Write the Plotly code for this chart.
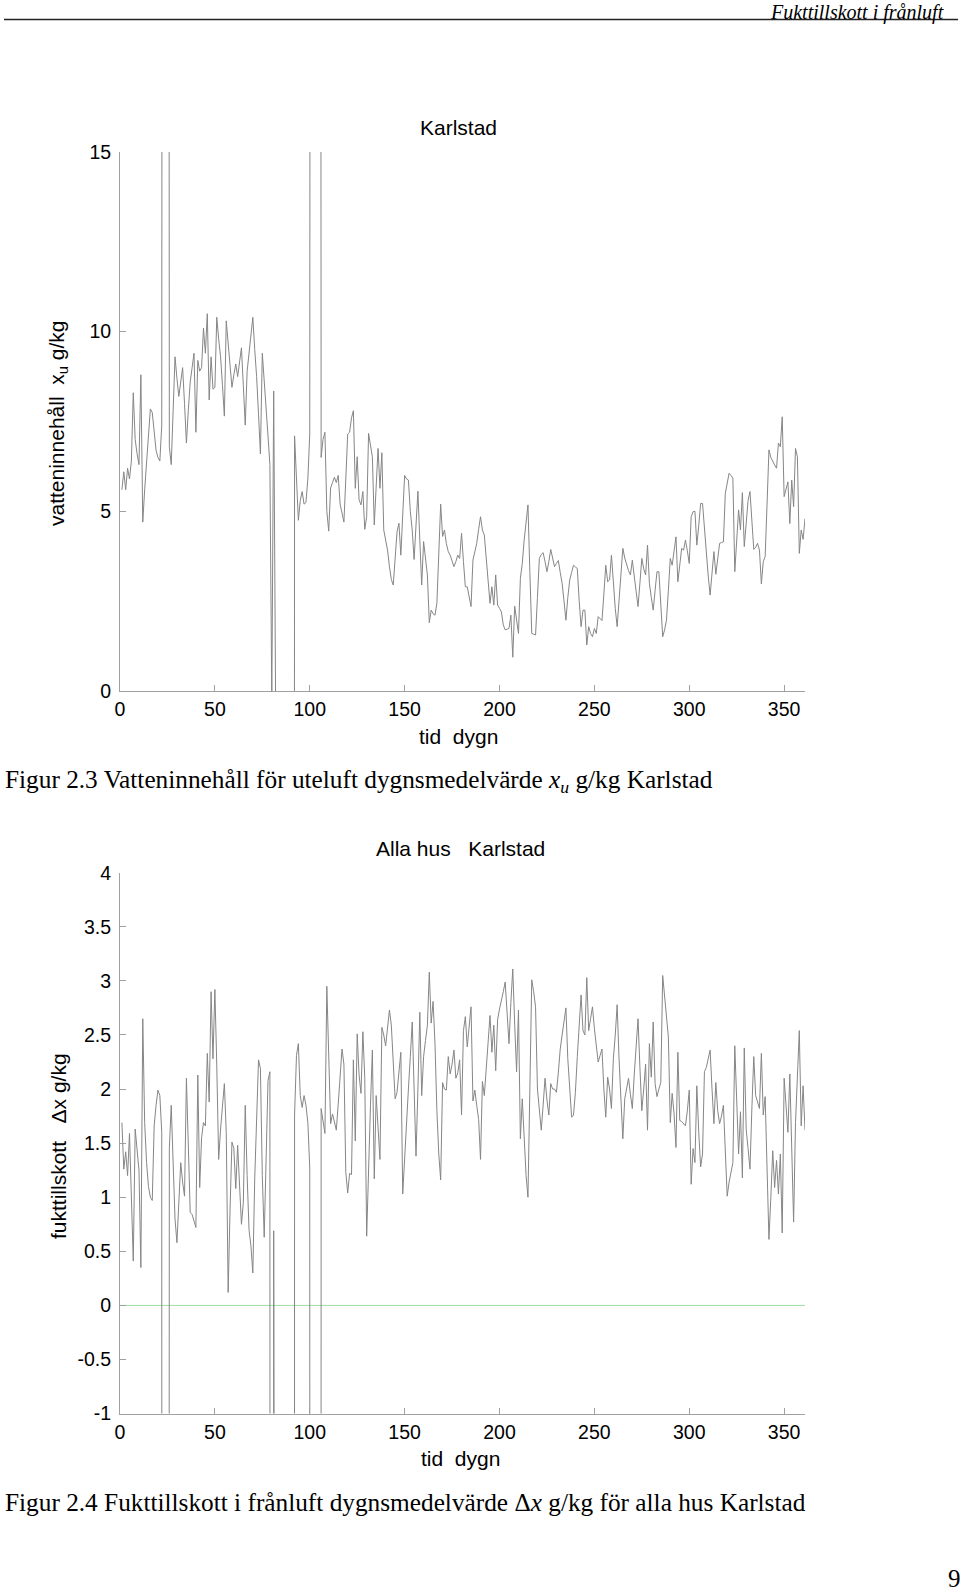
import plotly.graph_objects as go

W, H = 960, 1592

# ---- data: daily values, day 1 .. 361 (99 / -99 = missing-data code, drawn off-axis) ----
xu_values = [
    5.6, 6.1, 5.6, 6.2, 5.9, 6.4, 8.3, 7.0, 6.6, 6.3,
    8.8, 4.7, 5.6, 6.4, 7.1, 7.85, 7.75, 7.2, 6.7, 6.5,
    6.4, 7.4, 99, 99, 99, 6.8, 6.3, 7.8, 9.3, 8.7,
    8.2, 8.6, 9.0, 8.0, 6.9, 7.8, 8.6, 9.0, 9.4, 7.2,
    9.2, 8.9, 9.0, 10.1, 9.4, 10.5, 8.1, 9.3, 8.4, 8.45,
    10.4, 9.8, 9.3, 8.5, 7.65, 10.3, 9.6, 9.0, 8.45, 8.8,
    9.1, 8.75, 9.2, 9.55, 8.5, 7.4, 8.9, 9.4, 9.9, 10.4,
    9.5, 8.75, 7.7, 6.6, 9.4, 8.7, 7.9, 7.1, 6.3, -0.3,
    8.35, -0.3, -99, -99, -99, -99, -99, -99, -99, -99,
    -99, 7.1, 5.9, 4.75, 5.3, 5.55, 5.2, 5.25, 5.9, 7.15,
    99, 99, 99, 99, 99, 6.5, 7.0, 7.2, 5.0, 4.45,
    5.65, 5.8, 5.95, 5.8, 6.0, 5.2, 4.9, 4.7, 5.9, 7.15,
    7.2, 7.6, 7.8, 5.64, 6.52, 5.32, 5.18, 5.55, 4.5, 4.85,
    7.17, 6.8, 6.52, 4.62, 5.7, 6.75, 5.64, 6.63, 4.48, 4.2,
    3.92, 3.46, 3.1, 2.95, 3.8, 4.43, 4.67, 3.78, 4.9, 6.0,
    5.9, 5.87, 5.0, 4.48, 3.66, 4.6, 5.56, 4.2, 2.95, 4.16,
    3.7, 3.23, 1.9, 2.25, 2.15, 2.11, 2.44, 3.8, 5.2, 4.3,
    4.48, 4.1, 3.88, 3.78, 3.6, 3.46, 3.6, 3.78, 3.69, 4.39,
    3.6, 2.9, 2.9, 2.6, 2.35, 3.64, 3.9, 4.11, 4.5, 4.85,
    4.48, 4.34, 3.7, 3.0, 2.44, 2.9, 2.39, 3.23, 2.39, 2.3,
    2.2, 1.84, 1.7, 1.72, 1.74, 2.11, 0.94, 2.36, 1.9, 1.6,
    3.13, 3.55, 4.2, 4.8, 5.18, 3.3, 1.6, 1.58, 1.56, 2.6,
    3.69, 3.8, 3.85, 3.6, 3.32, 3.6, 3.94, 3.7, 3.46, 3.55,
    3.63, 3.3, 3.0, 2.5, 1.97, 2.6, 3.09, 3.3, 3.5, 3.45,
    3.41, 2.5, 1.79, 2.25, 2.25, 1.28, 1.79, 1.6, 1.51, 1.74,
    1.6, 2.07, 2.0, 1.96, 2.7, 3.5, 3.04, 3.09, 3.78, 3.0,
    2.3, 1.79, 2.53, 3.2, 3.97, 3.7, 3.5, 3.35, 3.23, 3.64,
    3.2, 2.8, 2.35, 3.0, 3.69, 3.4, 3.23, 4.06, 3.0, 2.6,
    2.25, 2.8, 3.32, 3.32, 2.4, 1.51, 1.7, 1.97, 2.8, 3.69,
    3.5, 3.9, 4.29, 3.04, 3.5, 3.97, 3.92, 4.2, 3.9, 3.55,
    4.85, 4.99, 5.0, 4.06, 4.6, 5.22, 5.22, 4.5, 3.74, 3.2,
    2.67, 3.3, 3.88, 3.25, 3.7, 4.11, 4.13, 4.15, 5.5, 5.8,
    6.06, 6.0, 5.92, 3.32, 4.2, 5.04, 4.48, 5.52, 4.02, 4.8,
    5.3, 5.55, 4.71, 3.94, 4.0, 4.11, 3.92, 2.98, 3.6, 3.74,
    5.2, 6.71, 6.5, 6.38, 6.29, 6.2, 6.9, 6.8, 7.63, 5.41,
    5.6, 5.82, 4.66, 5.87, 5.13, 6.75, 6.52, 3.83, 4.48, 4.22, 4.8,
]

dx_values = [
    1.69, 1.26, 1.42, 1.2, 1.59, 0.98, 0.41, 1.63, 1.42, 1.25,
    0.35, 2.65, 1.69, 1.32, 1.1, 1.0, 0.97, 1.66, 1.85, 1.99,
    1.94, 1.6, -99, -99, -99, 1.45, 1.85, 1.2, 0.8, 0.58,
    1.0, 1.32, 1.14, 1.01, 2.1, 1.4, 0.86, 0.84, 0.78, 0.72,
    2.13, 1.09, 1.55, 1.69, 1.66, 2.33, 1.88, 2.9, 2.28, 2.92,
    2.22, 1.35, 1.63, 1.85, 2.05, 1.6, 0.12, 0.89, 1.51, 1.45,
    1.08, 1.48, 1.1, 0.75, 0.95, 1.85, 1.2, 0.7, 0.55, 0.3,
    1.17, 1.7, 2.27, 2.19, 1.2, 0.63, 1.29, 2.08, 2.16, -99,
    0.69, -99, -99, -99, -99, -99, -99, -99, -99, -99,
    -99, 1.76, 2.31, 2.42, 1.94, 1.83, 1.94, 1.85, 1.69, 1.27,
    -99, -99, -99, -99, -99, 1.82, 1.69, 1.59, 2.95, 2.2,
    1.68, 1.77, 1.7, 1.62, 1.86, 2.1, 2.37, 2.23, 1.23, 1.04,
    1.22, 1.21, 2.27, 1.52, 2.51, 2.13, 1.96, 2.53, 2.1, 0.64,
    1.3, 1.85, 2.36, 1.17, 1.94, 1.6, 1.35, 2.57, 2.5, 2.4,
    2.55, 2.73, 2.59, 2.2, 1.91, 1.97, 2.15, 2.34, 1.03, 1.4,
    1.74, 2.0, 2.3, 2.62, 2.0, 1.38, 2.0, 2.71, 1.94, 2.3,
    2.45, 2.59, 3.08, 2.61, 2.81, 2.42, 1.8, 1.4, 1.16, 2.06,
    2.0, 1.99, 2.3, 2.14, 2.23, 2.36, 2.1, 2.15, 2.27, 1.76,
    2.54, 2.67, 2.39, 2.55, 2.76, 1.89, 1.99, 1.85, 1.72, 1.35,
    2.07, 1.94, 2.2, 2.48, 2.68, 2.34, 2.59, 2.17, 2.64, 2.74,
    2.81, 2.9, 2.99, 2.71, 2.42, 2.8, 3.11, 2.6, 2.16, 2.73,
    1.54, 1.91, 1.5, 1.2, 1.0, 2.25, 3.01, 2.9, 2.76, 2.0,
    1.8, 1.62, 1.85, 2.1, 1.9, 1.76, 2.05, 2.0, 2.0, 1.97,
    2.15, 2.37, 2.5, 2.65, 2.75, 2.28, 2.0, 1.74, 1.76, 1.97,
    2.3, 2.6, 2.87, 2.54, 2.5, 3.03, 2.54, 2.65, 2.76, 2.56,
    2.4, 2.25, 2.31, 2.37, 2.0, 1.74, 2.11, 2.0, 1.82, 2.28,
    2.5, 2.78, 2.28, 1.9, 1.54, 1.91, 2.0, 2.1, 1.95, 1.82,
    2.13, 2.4, 2.65, 2.2, 1.8, 2.0, 2.23, 1.62, 2.42, 2.11,
    2.62, 2.05, 1.93, 2.0, 2.06, 3.05, 2.85, 2.71, 2.48, 1.69,
    1.96, 1.77, 1.46, 2.34, 1.71, 1.7, 1.68, 1.66, 1.8, 1.99,
    1.12, 1.45, 1.32, 2.03, 1.6, 1.28, 1.4, 2.16, 2.2, 2.3,
    2.36, 2.0, 1.68, 2.06, 1.8, 1.68, 1.75, 1.85, 1.4, 1.01,
    1.14, 1.23, 1.32, 2.4, 1.82, 1.4, 1.79, 1.18, 2.38, 1.63,
    1.45, 1.26, 1.82, 2.3, 1.94, 1.88, 1.82, 2.33, 1.76, 1.93,
    1.2, 0.61, 1.0, 1.43, 1.09, 1.34, 1.03, 1.4, 0.67, 2.1,
    1.85, 1.6, 2.14, 1.48, 0.77, 1.69, 2.1, 2.54, 1.66, 2.03, 1.62,
]

xu_days = list(range(1, len(xu_values) + 1))
dx_days = list(range(1, len(dx_values) + 1))

x_tickvals = [0, 50, 100, 150, 200, 250, 300, 350]
x_ticktext = ["0", "50", "100", "150", "200", "250", "300", "350"]
xu_tickvals = [0, 5, 10, 15]
xu_ticktext = ["0", "5", "10", "15"]
dx_tickvals = [-1, -0.5, 0, 0.5, 1, 1.5, 2, 2.5, 3, 3.5, 4]
dx_ticktext = ["-1", "-0.5", "0", "0.5", "1", "1.5", "2", "2.5", "3", "3.5", "4"]

SANS = "Liberation Sans, Arial, sans-serif"
SERIF = "Liberation Serif, Times New Roman, serif"
AXC = "#a0a0a0"
LINEC = "#868686"


def px(xp):
    return xp / W


def py(yp):
    return 1 - yp / H


fig = go.Figure()
fig.add_trace(go.Scatter(x=xu_days, y=xu_values, mode="lines",
                         line=dict(color=LINEC, width=1),
                         xaxis="x", yaxis="y", hoverinfo="skip", showlegend=False))
fig.add_trace(go.Scatter(x=dx_days, y=dx_values, mode="lines",
                         line=dict(color=LINEC, width=1),
                         xaxis="x2", yaxis="y2", hoverinfo="skip", showlegend=False))

common = dict(showline=True, linecolor=AXC, linewidth=1, ticks="inside", ticklen=6,
              tickcolor=AXC, tickwidth=1, showgrid=False, zeroline=False,
              tickfont=dict(family=SANS, size=19.5, color="black"), mirror=False,
              fixedrange=True, automargin=False)

xdom = [px(120), px(805)]
fig.update_layout(
    template="none",
    width=W, height=H, margin=dict(l=0, r=0, t=0, b=0, pad=0, autoexpand=False),
    paper_bgcolor="white", plot_bgcolor="white", showlegend=False,
    xaxis=dict(domain=xdom, range=[0, 361], anchor="y", tickvals=x_tickvals,
               ticktext=x_ticktext, ticklabelstandoff=1, **common),
    yaxis=dict(domain=[py(691), py(152)], range=[0, 15], anchor="x",
               tickvals=xu_tickvals, ticktext=xu_ticktext, ticklabelstandoff=4, **common),
    xaxis2=dict(domain=xdom, range=[0, 361], anchor="y2", tickvals=x_tickvals,
                ticktext=x_ticktext, ticklabelstandoff=1, **common),
    yaxis2=dict(domain=[py(1413.6), py(872.7)], range=[-1, 4], anchor="x2",
                tickvals=dx_tickvals, ticktext=dx_ticktext, ticklabelstandoff=4, **common),
)

fig.add_shape(type="line", xref="x2 domain", yref="y2", x0=0, x1=1, y0=0, y1=0,
              line=dict(color="#9fdca0", width=1), layer="below")

# header rule
fig.add_shape(type="line", xref="paper", yref="paper", x0=px(4), x1=px(958),
              y0=py(19.5), y1=py(19.5), line=dict(color="#222222", width=1.5))


def ann(text, xp, yp, size, family, xanchor="center", angle=0, color="black"):
    fig.add_annotation(text=text, x=px(xp), y=py(yp), xref="paper", yref="paper",
                       xanchor=xanchor, yanchor="middle", showarrow=False,
                       textangle=angle, font=dict(family=family, size=size, color=color))


ann("<i>Fukttillskott i frånluft</i>", 946, 12.5, 20, SERIF, xanchor="right")
ann("Karlstad", 458, 127, 21, SANS)
ann("vatteninnehåll  x<sub>u</sub> g/kg", 58, 424, 21, SANS, angle=-90)
ann("tid  dygn", 458, 736, 21, SANS)
ann("Figur 2.3 Vatteninnehåll för uteluft dygnsmedelvärde <i>x<sub>u</sub></i> g/kg Karlstad",
    3, 781, 25.3, SERIF, xanchor="left")
ann("Alla hus   Karlstad", 460, 848, 21, SANS)
ann("fukttillskott   Δx g/kg", 58, 1146, 21, SANS, angle=-90)
ann("tid  dygn", 460, 1458, 21, SANS)
ann("Figur 2.4 Fukttillskott i frånluft dygnsmedelvärde Δ<i>x</i> g/kg för alla hus Karlstad",
    3, 1502, 25.3, SERIF, xanchor="left")
ann("9", 954, 1578, 25, SERIF)

fig.write_html("out.html", post_script="document.body.style.margin='0';")
